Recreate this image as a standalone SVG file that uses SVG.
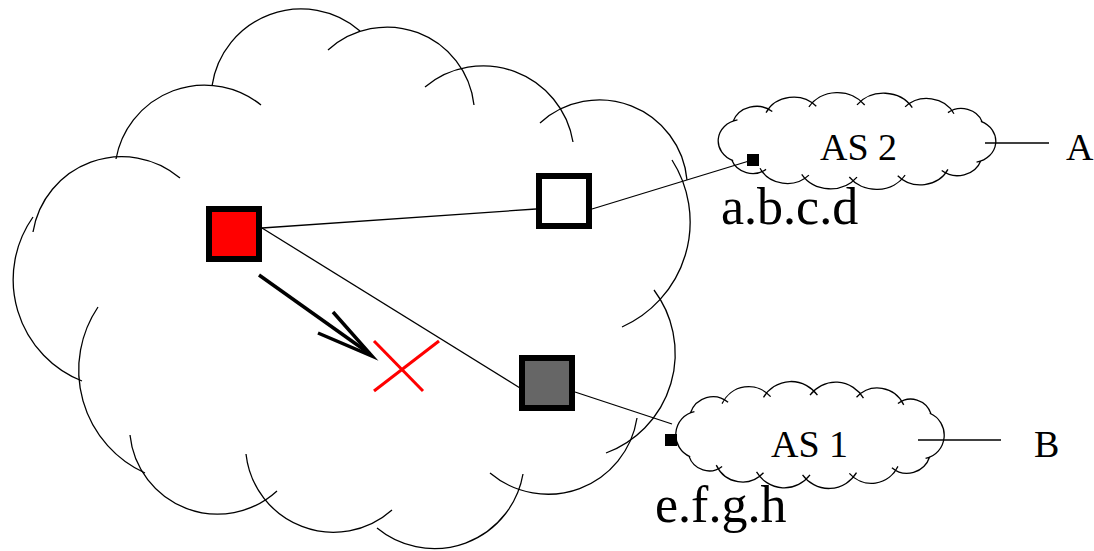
<svg xmlns="http://www.w3.org/2000/svg" xmlns:xlink="http://www.w3.org/1999/xlink" width="1094" height="551" viewBox="0 0 1094 551">
  <defs>
    <style>
      .arc{fill:none;stroke:#000;stroke-width:1.3}
      .scallop{fill:none;stroke:#000;stroke-width:1.3;vector-effect:non-scaling-stroke}
      .link{fill:none;stroke:#000;stroke-width:1.3}
      .router{stroke:#000;stroke-width:6}
      .port{fill:#000}
      .lbl{font-family:"Liberation Serif","Times New Roman",serif;fill:#000}
      .big{font-size:52px}
      .mid{font-size:38px}
    </style>
    <!-- scalloped outline of a small AS cloud, centred on the origin;
         each scallop runs a little past the next joint to leave a hook -->
    <path id="scallops" class="scallop" d="M-117.4,-20.7A23.5,23.5 0 0 1 -80.3,-31.1
      M-86.2,-29.9A29,29 0 0 1 -38.6,-36.5
      M-45.6,-35.9A32,32 0 0 1 7.3,-37.9
      M0,-38A32,32 0 0 1 52.4,-35.2
      M45.6,-35.9A28.5,28.5 0 0 1 91.9,-28.7
      M86.2,-29.9A21,21 0 0 1 118.7,-20.1
      M117.4,-20.7A22.5,22.5 0 0 1 113.3,22.3
      M117.4,20.7A23.5,23.5 0 0 1 80.3,31.1
      M86.2,29.9A29,29 0 0 1 38.6,36.5
      M45.6,35.9A32,32 0 0 1 -7.3,37.9
      M0,38A32,32 0 0 1 -52.4,35.2
      M-45.6,35.9A28.5,28.5 0 0 1 -91.9,28.7
      M-86.2,29.9A21,21 0 0 1 -118.7,20.1
      M-117.4,20.7A22.5,22.5 0 0 1 -113.3,-22.3"/>
  </defs>

  <rect width="1094" height="551" fill="#fff"/>

  <!-- large domain cloud made of overlapping arcs -->
  <g id="domain-cloud">
    <path class="arc" d="M33,232A90,90 0 0 1 180,178"/>
    <path class="arc" d="M116,159A90,90 0 0 1 261,105"/>
    <path class="arc" d="M212,86A90,90 0 0 1 360,31"/>
    <path class="arc" d="M328,50A87.5,87.5 0 0 1 474,105"/>
    <path class="arc" d="M425,87A91,91 0 0 1 573,142"/>
    <path class="arc" d="M540,123A88,88 0 0 1 687,180"/>
    <path class="arc" d="M672,160A115,115 0 0 1 622,327"/>
    <path class="arc" d="M654,290A106,106 0 0 1 606,453"/>
    <path class="arc" d="M637,418A90,90 0 0 1 490,473"/>
    <path class="arc" d="M523,474A90,90 0 0 1 377,528"/>
    <path class="arc" d="M392,510A88,88 0 0 1 246,454"/>
    <path class="arc" d="M277,491A88,88 0 0 1 130,435"/>
    <path class="arc" d="M145,473A113,113 0 0 1 98,307"/>
    <path class="arc" d="M82,381A109,109 0 0 1 33,217"/>
  </g>

  <!-- neighbouring autonomous systems -->
  <g id="as2">
    <use xlink:href="#scallops" href="#scallops" transform="translate(857,141) scale(1.055,0.95)"/>
    <text class="lbl mid" x="820" y="160">AS 2</text>
  </g>
  <g id="as1">
    <use xlink:href="#scallops" href="#scallops" transform="translate(810,435) scale(1.02,1.05)"/>
    <text class="lbl mid" x="771" y="457">AS 1</text>
  </g>

  <!-- links -->
  <g id="connectors">
    <line class="link" x1="262" y1="228" x2="536" y2="209"/>
    <line class="link" x1="262" y1="228" x2="520" y2="388"/>
    <line class="link" x1="592" y1="209" x2="749" y2="161"/>
    <line class="link" x1="575" y1="392" x2="672" y2="424"/>
    <line class="link" x1="985" y1="143" x2="1049" y2="143"/>
    <line class="link" x1="918" y1="440" x2="1001" y2="440"/>
  </g>

  <!-- routers -->
  <g id="router-red">
    <rect class="router" x="209" y="209" width="50" height="50" fill="#ff0000"/>
  </g>
  <g id="router-white">
    <rect class="router" x="539" y="176" width="50" height="50" fill="#fff"/>
  </g>
  <g id="router-gray">
    <rect class="router" x="522" y="358" width="50" height="50" fill="#666"/>
  </g>

  <!-- peering addresses -->
  <g id="port-abcd">
    <rect class="port" x="747" y="154" width="12" height="12"/>
    <text class="lbl big" x="721" y="224">a.b.c.d</text>
  </g>
  <g id="port-efgh">
    <rect class="port" x="665" y="434" width="12" height="12"/>
    <text class="lbl big" x="655" y="522">e.f.g.h</text>
  </g>

  <!-- external destinations -->
  <g id="dest-a">
    <text class="lbl mid" x="1066" y="160">A</text>
  </g>
  <g id="dest-b">
    <text class="lbl mid" x="1034" y="457">B</text>
  </g>

  <!-- shift of traffic towards the failed link -->
  <g id="shift-arrow" fill="none" stroke="#000" stroke-width="3.5" stroke-linejoin="miter" stroke-miterlimit="20">
    <line x1="259" y1="275" x2="370" y2="354"/>
    <polyline points="333,312 372,356 318,333"/>
  </g>
  <g id="failure-mark" stroke="#ff0000" stroke-width="3" fill="none">
    <line x1="374" y1="341" x2="423" y2="391"/>
    <line x1="374" y1="391" x2="439" y2="341"/>
  </g>
</svg>
